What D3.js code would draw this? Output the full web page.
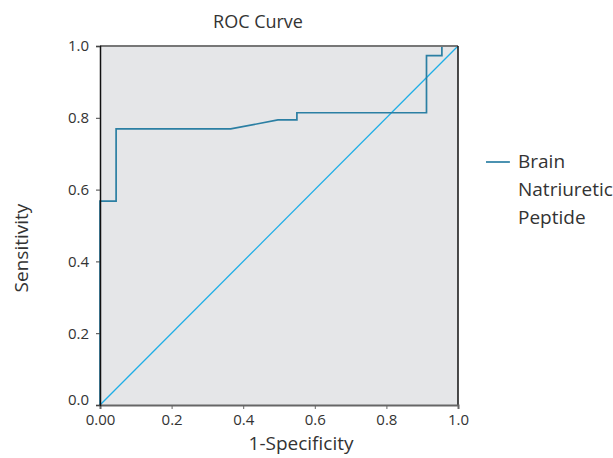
<!DOCTYPE html>
<html>
<head>
<meta charset="utf-8">
<script src="https://cdn.jsdelivr.net/npm/d3@7"></script>
<style>
  body { margin: 0; background: #fff; }
  svg text { font-family: "Open Sans", "Noto Sans", sans-serif; fill: #333; }
</style>
</head>
<body>
<div id="chart"></div>
<script>
// ROC curve points (1-specificity, sensitivity)
const fprValues = [0.000, 0.000, 0.045, 0.045, 0.365, 0.497, 0.550, 0.550, 0.912, 0.912, 0.955, 0.955];
const tprValues = [0.000, 0.568, 0.568, 0.769, 0.769, 0.794, 0.794, 0.814, 0.814, 0.973, 0.973, 1.000];
const referenceLine = [[0, 0], [1, 1]];
const xTicks = [0, 0.2, 0.4, 0.6, 0.8, 1.0];
const yTicks = [0, 0.2, 0.4, 0.6, 0.8, 1.0];
const seriesName = ["Brain", "Natriuretic", "Peptide"];

const width = 613, height = 458;
const margin = { top: 46, left: 100, right: 155, bottom: 53 };
const plotW = width - margin.left - margin.right;
const plotH = height - margin.top - margin.bottom;

const svg = d3.select("#chart").append("svg")
    .attr("width", width)
    .attr("height", height);

const x = d3.scaleLinear().domain([0, 1]).range([margin.left, margin.left + plotW]);
const y = d3.scaleLinear().domain([0, 1]).range([margin.top + plotH, margin.top]);

// plot background
svg.append("rect")
    .attr("x", x(0)).attr("y", y(1))
    .attr("width", x(1) - x(0)).attr("height", y(0) - y(1))
    .attr("fill", "#e5e6e8");

// title
svg.append("text")
    .attr("x", 258)
    .attr("y", 28)
    .attr("text-anchor", "middle")
    .attr("font-size", "18px")
    .text("ROC Curve");

const line = d3.line().x(d => x(d[0])).y(d => y(d[1]));

// diagonal reference
svg.append("path")
    .attr("d", line(referenceLine))
    .attr("fill", "none")
    .attr("stroke", "#1eaee6")
    .attr("stroke-width", 1.3);

// ROC curve
const rocPoints = fprValues.map((v, i) => [v, tprValues[i]]);
svg.append("path")
    .attr("d", line(rocPoints))
    .attr("fill", "none")
    .attr("stroke", "#2b7fa3")
    .attr("stroke-width", 1.7);

// frame lines
svg.append("line")
    .attr("x1", x(0)).attr("x2", x(1)).attr("y1", y(1)).attr("y2", y(1))
    .attr("stroke", "#777").attr("stroke-width", 2);
svg.append("line")
    .attr("x1", x(1)).attr("x2", x(1)).attr("y1", y(1)).attr("y2", y(0))
    .attr("stroke", "#111").attr("stroke-width", 1.5);

// x axis
const xAxis = svg.append("g")
    .attr("transform", `translate(0,${y(0)})`)
    .call(d3.axisBottom(x).tickValues(xTicks).tickSize(4).tickPadding(5)
        .tickFormat(d => d === 0 ? "0.00" : d3.format(".1f")(d)));
xAxis.select(".domain").attr("stroke", "#666").attr("stroke-width", 2);
xAxis.selectAll(".tick line").attr("stroke", "#666");
xAxis.selectAll("text").attr("font-size", "15px").attr("fill", "#333");

// y axis
const yAxis = svg.append("g")
    .attr("transform", `translate(${x(0)},0)`)
    .call(d3.axisLeft(y).tickValues(yTicks).tickSize(4).tickPadding(7)
        .tickFormat(d3.format(".1f")));
yAxis.select(".domain").attr("stroke", "#111").attr("stroke-width", 1.5);
yAxis.selectAll(".tick line").attr("stroke", "#444");
yAxis.selectAll("text").attr("font-size", "15px").attr("fill", "#333")
    .attr("dy", d => d === 0 ? "-0.05em" : "0.32em");

// axis titles
svg.append("text")
    .attr("x", 301)
    .attr("y", 450)
    .attr("text-anchor", "middle")
    .attr("font-size", "19px")
    .text("1-Specificity");

svg.append("text")
    .attr("transform", "translate(28,248) rotate(-90)")
    .attr("text-anchor", "middle")
    .attr("font-size", "19px")
    .text("Sensitivity");

// legend
const legend = svg.append("g").attr("transform", "translate(486,162)");
legend.append("line")
    .attr("x1", 0).attr("x2", 24).attr("y1", 0).attr("y2", 0)
    .attr("stroke", "#2b7fa3").attr("stroke-width", 1.7);
legend.selectAll("text.name")
    .data(seriesName)
    .enter()
    .append("text")
    .attr("class", "name")
    .attr("x", 32)
    .attr("y", (d, i) => 6 + i * 28)
    .attr("font-size", "19px")
    .text(d => d);
</script>
</body>
</html>
